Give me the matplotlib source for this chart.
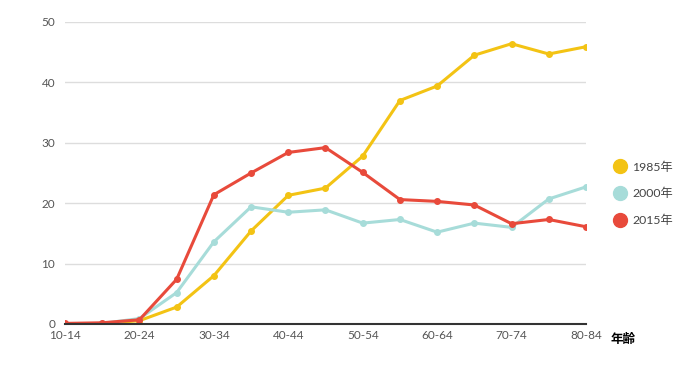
import matplotlib.pyplot as plt
from matplotlib.lines import Line2D

plt.rcParams['font.family'] = ['Lato', 'Noto Sans CJK JP', 'DejaVu Sans']

# age groups (x axis)
ages = ["10-14", "15-19", "20-24", "25-29", "30-34", "35-39", "40-44", "45-49",
        "50-54", "55-59", "60-64", "65-69", "70-74", "75-79", "80-84"]

# values
y1985 = [0.0, 0.05, 0.55, 2.8, 8.0, 15.4, 21.3, 22.5, 27.8, 37.0, 39.4, 44.5, 46.4, 44.7, 45.9]
y2000 = [0.0, 0.1, 0.9, 5.2, 13.6, 19.4, 18.5, 18.9, 16.7, 17.3, 15.2, 16.7, 16.0, 20.7, 22.7]
y2015 = [0.1, 0.2, 0.7, 7.4, 21.4, 25.0, 28.4, 29.2, 25.1, 20.6, 20.3, 19.7, 16.6, 17.3, 16.1]

series = [("1985年", y1985, "#F3C314"),
          ("2000年", y2000, "#A7DCD9"),
          ("2015年", y2015, "#E84A3B")]

fig = plt.figure(figsize=(6.88, 3.87), dpi=100)
ax = fig.add_axes([0.0945, 0.1628, 0.7572, 0.7804])

x = list(range(len(ages)))
for name, vals, col in series:
    ax.plot(x, vals, color=col, linewidth=2.2, marker='o', markersize=4,
            solid_capstyle='round', zorder=3)

ax.set_xlim(0, len(ages) - 1)
ax.set_ylim(0, 50)
ax.set_yticks([0, 10, 20, 30, 40, 50])
ax.set_xticks(x[::2])
ax.set_xticklabels(ages[::2])
ax.tick_params(axis='both', length=0, labelsize=8.5, labelcolor='#555555')
ax.tick_params(axis='x', pad=4)
ax.tick_params(axis='y', pad=7)
ax.grid(axis='y', color='#dddddd', linewidth=1)
ax.set_axisbelow(True)
for s in ['top', 'right', 'left']:
    ax.spines[s].set_visible(False)
ax.spines['bottom'].set_color('#333333')
ax.spines['bottom'].set_linewidth(1.5)
ax.spines['bottom'].set_zorder(4)

fig.text(0.888, 0.123, "年齢", fontsize=9, fontweight='bold', ha='left', va='center',
         color='black')

handles = [Line2D([], [], linestyle='none', marker='o', markersize=10,
                  color=col, label=name) for name, vals, col in series]
fig.legend(handles=handles, loc='center left', bbox_to_anchor=(0.875, 0.5),
           frameon=False, fontsize=8.8, handletextpad=0.35, labelspacing=1.25,
           labelcolor='#444444', handlelength=1.2)

fig.savefig("out.png", dpi=100)
